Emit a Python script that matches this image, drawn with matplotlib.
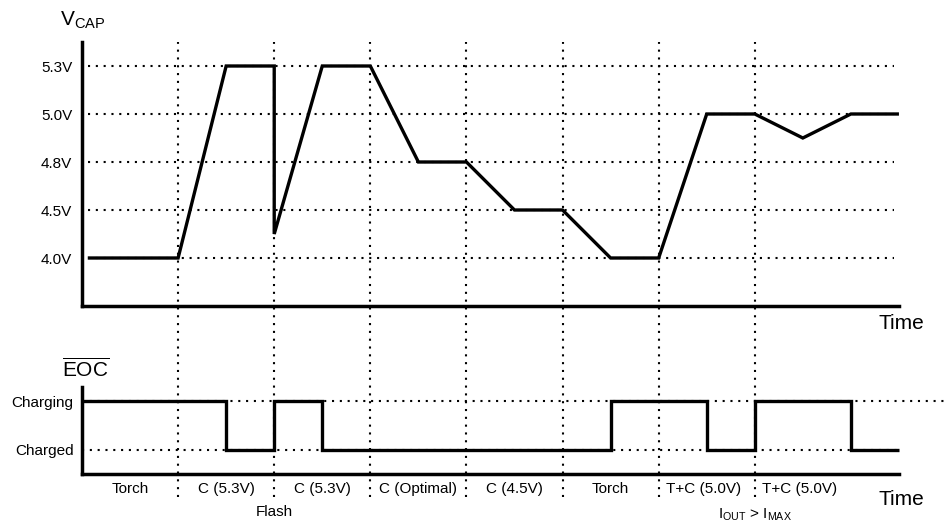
import matplotlib
matplotlib.use('Agg')
import matplotlib.pyplot as plt

plt.rcParams['font.family'] = ['Liberation Sans', 'DejaVu Sans']
plt.rcParams['mathtext.fontset'] = 'custom'
plt.rcParams['mathtext.rm'] = 'Liberation Sans'
plt.rcParams['mathtext.it'] = 'Liberation Sans'

# 数据
vcap_levels = ['4.0V', '4.5V', '4.8V', '5.0V', '5.3V']
vcap_t = [0.06, 1.0, 1.5, 2.0, 2.0, 2.5, 3.0, 3.5, 4.0, 4.5, 5.0, 5.5, 6.0, 6.5, 7.0, 7.5, 8.0, 8.5]
vcap_y = [0, 0, 4, 4, 0.5, 4, 4, 2, 2, 1, 1, 0, 0, 3, 3, 2.5, 3, 3]

eoc_levels = ['Charged', 'Charging']
eoc_t = [0, 1.5, 2.0, 2.5, 5.5, 6.5, 7.0, 8.0, 8.5]
eoc_state = [1, 0, 1, 0, 1, 0, 1, 0, 0]

phase_bounds = [1, 2, 3, 4, 5, 6, 7]
phase_names = ['Torch', 'C (5.3V)', 'C (5.3V)', 'C (Optimal)', 'C (4.5V)', 'Torch', 'T+C (5.0V)', 'T+C (5.0V)']
phase_x = [0.5, 1.5, 2.5, 3.5, 4.5, 5.5, 6.47, 7.47]

W, H = 947, 531
fig = plt.figure(figsize=(W / 100, H / 100), dpi=100)

x0 = 82
unit = 96
xmax = (946 - x0) / unit
t_end = 8.5


def fy(py):
    return (H - py) / H


dot = dict(color='black', linewidth=1.5, linestyle=(0, (1, 2.75)))
sig = dict(color='black', linewidth=2.4, solid_joinstyle='miter', solid_capstyle='butt')
spine = dict(color='black', linewidth=2.5, solid_capstyle='projecting')

# === 竖直虚线 (跨两个子图) ===
axv = fig.add_axes([x0 / W, fy(497), (W - x0) / W, fy(42) - fy(497)])
axv.set_xlim(0, xmax)
axv.set_ylim(0, 1)
axv.axis('off')
for b in phase_bounds:
    axv.plot([b, b], [0, 1], **dot)

# === 上图: V_CAP ===
ax1 = fig.add_axes([x0 / W, fy(306), (W - x0) / W, fy(42) - fy(306)])
ax1.set_xlim(0, xmax)
ax1.set_ylim(-1, 4.5)
ax1.patch.set_alpha(0)
for s in ax1.spines.values():
    s.set_visible(False)
ax1.set_xticks([])
ax1.set_yticks(range(len(vcap_levels)))
ax1.set_yticklabels(vcap_levels, fontsize=11)
ax1.tick_params(axis='y', length=0, pad=7)

for i in range(len(vcap_levels)):
    ax1.plot([0.06, 8.45], [i, i], **dot)
ax1.plot(vcap_t, vcap_y, **sig)
ax1.plot([0, 0], [-1, 4.5], clip_on=False, **spine)
ax1.plot([0, t_end], [-1, -1], clip_on=False, **spine)
fig.text(60 / W, fy(26), r'V$_{\mathrm{CAP}}$', fontsize=15, ha='left', va='baseline')
ax1.text(8.53, -1.36, 'Time', fontsize=15, ha='center', va='center', clip_on=False)

# === 下图: EOC ===
ax2 = fig.add_axes([x0 / W, fy(474), (W - x0) / W, fy(387) - fy(474)])
ax2.set_xlim(0, xmax)
ax2.set_ylim(-24 / 49, 63 / 49)
ax2.patch.set_alpha(0)
for s in ax2.spines.values():
    s.set_visible(False)
ax2.set_xticks([])
ax2.set_yticks(range(len(eoc_levels)))
ax2.set_yticklabels(eoc_levels, fontsize=11)
ax2.tick_params(axis='y', length=0, pad=6)

ax2.plot([0, t_end], [0, 0], **dot)
ax2.plot([0, xmax], [1, 1], clip_on=False, **dot)
ax2.step(eoc_t, eoc_state, where='post', **sig)
ax2.plot([0, 0], [-24 / 49, 63 / 49], clip_on=False, **spine)
ax2.plot([0, t_end], [-24 / 49, -24 / 49], clip_on=False, **spine)
fig.text(62 / W, fy(377), r'$\overline{\mathrm{EOC}}$', fontsize=15, ha='left', va='baseline')

for name, px in zip(phase_names, phase_x):
    ax2.text(px, -0.8, name, fontsize=11, ha='center', va='center', clip_on=False)
ax2.text(2.0, -1.27, 'Flash', fontsize=11, ha='center', va='center', clip_on=False)
ax2.text(7.0, -1.33, r'I$_{\mathrm{OUT}}$ > I$_{\mathrm{MAX}}$', fontsize=11,
         ha='center', va='center', clip_on=False)
ax2.text(8.53, -1.02, 'Time', fontsize=15, ha='center', va='center', clip_on=False)

plt.savefig('out.png', dpi=100, facecolor='white')
plt.close()
